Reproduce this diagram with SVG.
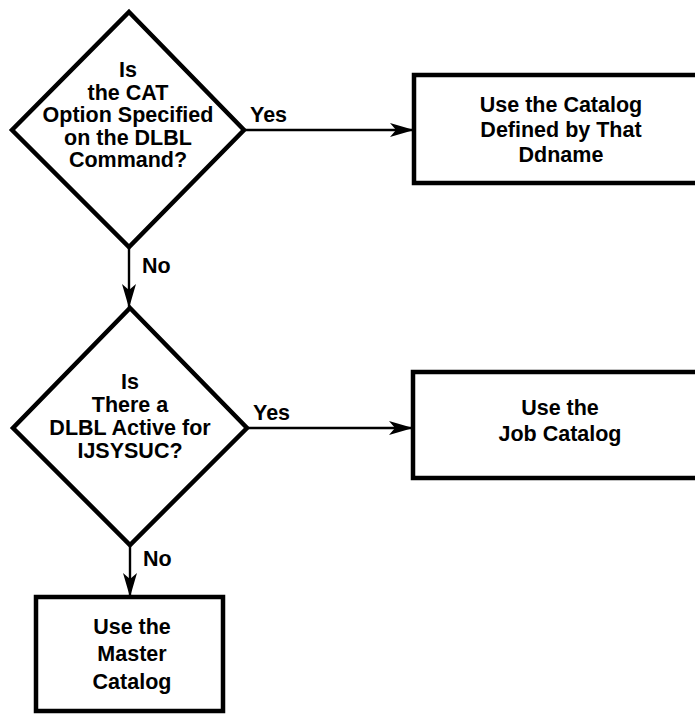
<svg xmlns="http://www.w3.org/2000/svg" width="695" height="714" viewBox="0 0 695 714">
<defs>
<style>
.shape{fill:#fff;stroke:#000;stroke-width:4.5;stroke-linejoin:miter}
.conn{fill:none;stroke:#000;stroke-width:2.4}
text{font-family:"Liberation Sans",Arial,sans-serif;font-weight:bold;font-size:21.5px;fill:#000;text-anchor:middle}
.lbl{text-anchor:start}
</style>
<marker id="arr" viewBox="0 0 24 14" refX="24" refY="7" markerWidth="24" markerHeight="14" markerUnits="userSpaceOnUse" orient="auto">
<path d="M0,0 L24,7 L0,14 L6,7 Z" fill="#000"/>
</marker>
</defs>
<rect width="695" height="714" fill="#fff"/>
<g id="connectors">
<line class="conn" x1="244" y1="130" x2="414" y2="130" marker-end="url(#arr)"/>
<line class="conn" x1="129" y1="247" x2="129" y2="308" marker-end="url(#arr)"/>
<line class="conn" x1="247" y1="428" x2="413" y2="428" marker-end="url(#arr)"/>
<line class="conn" x1="130" y1="545" x2="130" y2="597" marker-end="url(#arr)"/>
<text class="lbl" x="250" y="122">Yes</text>
<text class="lbl" x="142" y="273">No</text>
<text class="lbl" x="253" y="420">Yes</text>
<text class="lbl" x="143" y="566">No</text>
</g>
<g id="decision1">
<polygon class="shape" points="129,12 244,130 129,247 12,130"/>
<text x="128" y="77">Is</text>
<text x="128" y="99.5">the CAT</text>
<text x="128" y="122">Option Specified</text>
<text x="128" y="144.5">on the DLBL</text>
<text x="128" y="167">Command?</text>
</g>
<g id="box1">
<rect class="shape" x="414" y="75" width="300" height="108"/>
<text x="561" y="112">Use the Catalog</text>
<text x="561" y="137">Defined by That</text>
<text x="561" y="162">Ddname</text>
</g>
<g id="decision2">
<polygon class="shape" points="130,308 247,428 130,545 13,428"/>
<text x="130" y="389">Is</text>
<text x="130" y="412">There a</text>
<text x="130" y="435">DLBL Active for</text>
<text x="130" y="458">IJSYSUC?</text>
</g>
<g id="box2">
<rect class="shape" x="413" y="372" width="300" height="106"/>
<text x="560" y="415">Use the</text>
<text x="560" y="441">Job Catalog</text>
</g>
<g id="box3">
<rect class="shape" x="36" y="597" width="187" height="114"/>
<text x="132" y="634">Use the</text>
<text x="132" y="661">Master</text>
<text x="132" y="689">Catalog</text>
</g>
</svg>
